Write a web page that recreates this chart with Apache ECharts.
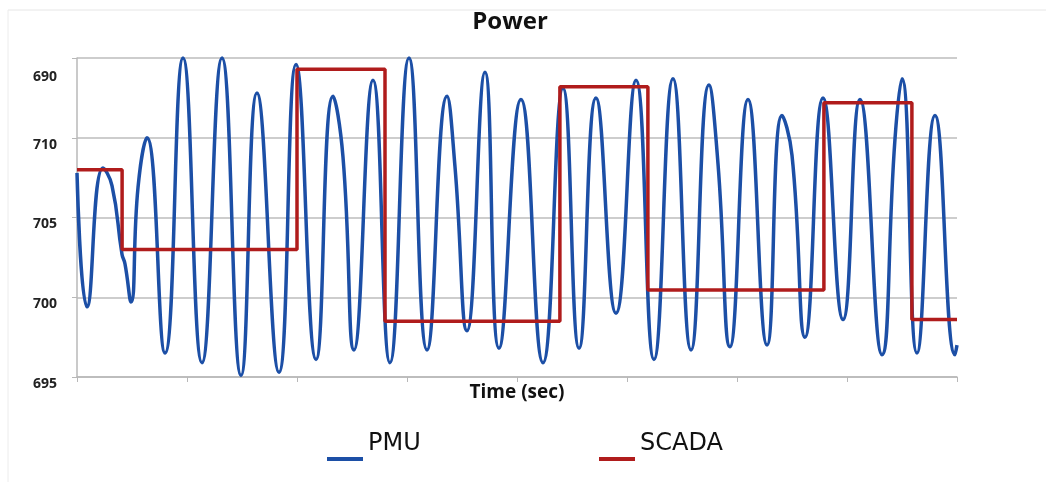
<!DOCTYPE html>
<html>
<head>
<meta charset="utf-8">
<title>Power</title>
<script src="https://cdn.jsdelivr.net/npm/echarts@6/dist/echarts.min.js"></script>
<style>
    html, body { margin: 0; padding: 0; background: #fff; }
    #chart { width: 1046px; height: 482px; }
</style>
</head>
<body>
<div id="chart"></div>
<script>
    'use strict';

    // time axis runs 0..80, one tick every 10
    const pmuTime = [
        0, 0.91, 2.36, 3.18, 4.09, 4.36, 4.91, 5.55, 6.36, 8.0,
        9.64, 11.36, 13.18, 14.91, 16.36, 18.36, 19.91, 21.73, 23.27, 24.18,
        25.18, 26.91, 28.45, 30.18, 31.82, 33.64, 34.36, 35.45, 37.09, 38.36,
        40.36, 42.36, 44.18, 45.64, 47.18, 49.0, 50.82, 52.45, 54.18, 55.82,
        57.45, 58.27, 59.36, 61.0, 62.73, 64.09, 65.0, 66.18, 67.82, 69.64,
        71.18, 73.18, 74.36, 75.0, 76.36, 78.0, 79.82, 80
    ];
    const pmuPower = [
        707.8, 699.4, 708.1, 707.0, 702.7, 702.1, 699.7, 706.9, 710.0, 696.5,
        715.0, 695.9, 715.0, 695.1, 712.8, 695.3, 714.6, 696.1, 712.6, 708.8,
        696.7, 713.6, 695.9, 715.0, 696.7, 712.6, 708.2, 697.9, 714.1, 696.8,
        712.4, 695.9, 713.1, 696.8, 712.5, 699.0, 713.6, 696.1, 713.7, 696.7,
        713.3, 708.4, 696.9, 712.4, 697.0, 711.4, 708.9, 697.5, 712.5, 698.6,
        712.4, 696.4, 709.9, 713.7, 696.5, 711.4, 696.4, 697.0
    ];

    const scadaTime = [0, 4.1, 20, 28, 43.9, 51.9, 67.9, 75.9, 80];
    const scadaPower = [708.0, 703.0, 714.3, 698.5, 713.2, 700.45, 712.2, 698.6, 698.6];

    // tick labels as printed on the original (top one reads 690)
    const yTickValues = [695, 700, 705, 710, 715];
    const yTickLabels = ['695', '700', '705', '710', '690'];

    const zip = function (xs, ys) {
        return xs.map(function (x, i) { return [x, ys[i]]; });
    };

    const legendFor = function (name, left) {
        return {
            left: left,
            top: 427,
            itemWidth: 36,
            itemHeight: 4,
            icon: 'rect',
            formatter: '{n|{name}}',
            textStyle: {
                rich: {
                    n: {
                        fontFamily: 'DejaVu Sans',
                        fontSize: 24,
                        color: '#111',
                        padding: [0, 0, 30, 0]
                    }
                }
            },
            data: [name]
        };
    };

    const chart = echarts.init(document.getElementById('chart'), null, {renderer: 'canvas'});

    const option = {
        backgroundColor: '#ffffff',
        animation: false,
        title: {
            text: 'Power',
            left: 505,
            top: 5,
            textAlign: 'center',
            textStyle: {
                fontFamily: 'Open Sans',
                fontSize: 24,
                fontWeight: 'bold',
                color: '#111'
            }
        },
        legend: [legendFor('PMU', 322), legendFor('SCADA', 594)],
        grid: {
            left: 77,
            right: 89,
            top: 58,
            bottom: 105
        },
        xAxis: {
            type: 'value',
            min: 0,
            max: 80,
            interval: 10,
            name: 'Time (sec)',
            nameLocation: 'middle',
            nameGap: 6,
            nameTextStyle: {
                fontFamily: 'Open Sans',
                fontSize: 19,
                fontWeight: 'bold',
                color: '#111'
            },
            axisLine: {show: true, lineStyle: {color: '#b8b8b8', width: 1.5}},
            axisTick: {show: true, length: 5, lineStyle: {color: '#b8b8b8'}},
            axisLabel: {show: false},
            splitLine: {show: false}
        },
        yAxis: {
            type: 'value',
            min: 695,
            max: 715,
            interval: 5,
            axisLine: {show: true, lineStyle: {color: '#b8b8b8', width: 1.5}},
            axisTick: {show: true, length: 5, lineStyle: {color: '#b8b8b8'}},
            axisLabel: {
                margin: 20,
                fontFamily: 'Open Sans',
                fontSize: 14,
                fontWeight: 'bold',
                color: '#222',
                verticalAlign: 'top',
                formatter: function (v) {
                    const i = yTickValues.indexOf(v);
                    if (i < 0)
                        return '';
                    if (v === 715)
                        return '{top|' + yTickLabels[i] + '}';
                    return yTickLabels[i];
                },
                rich: {
                    top: {
                        fontFamily: 'Open Sans',
                        fontSize: 14,
                        fontWeight: 'bold',
                        color: '#222',
                        padding: [12, 0, 0, 0]
                    }
                }
            },
            splitLine: {show: true, lineStyle: {color: '#bdbdbd', width: 1.5}}
        },
        graphic: [
            {type: 'line', shape: {x1: 8, y1: 10, x2: 1046, y2: 10}, style: {stroke: '#e6e6e6', lineWidth: 1}},
            {type: 'line', shape: {x1: 8, y1: 10, x2: 8, y2: 482}, style: {stroke: '#ececec', lineWidth: 1}}
        ],
        series: [
            {
                name: 'PMU',
                type: 'line',
                smooth: 0.5,
                showSymbol: false,
                clip: false,
                data: zip(pmuTime, pmuPower),
                itemStyle: {color: '#1c4fa6'},
                lineStyle: {color: '#1c4fa6', width: 3.5},
                z: 2
            },
            {
                name: 'SCADA',
                type: 'line',
                step: 'end',
                showSymbol: false,
                data: zip(scadaTime, scadaPower),
                itemStyle: {color: '#b01c1c'},
                lineStyle: {color: '#b01c1c', width: 3.5},
                z: 3
            }
        ]
    };

    chart.setOption(option);
</script>
</body>
</html>
